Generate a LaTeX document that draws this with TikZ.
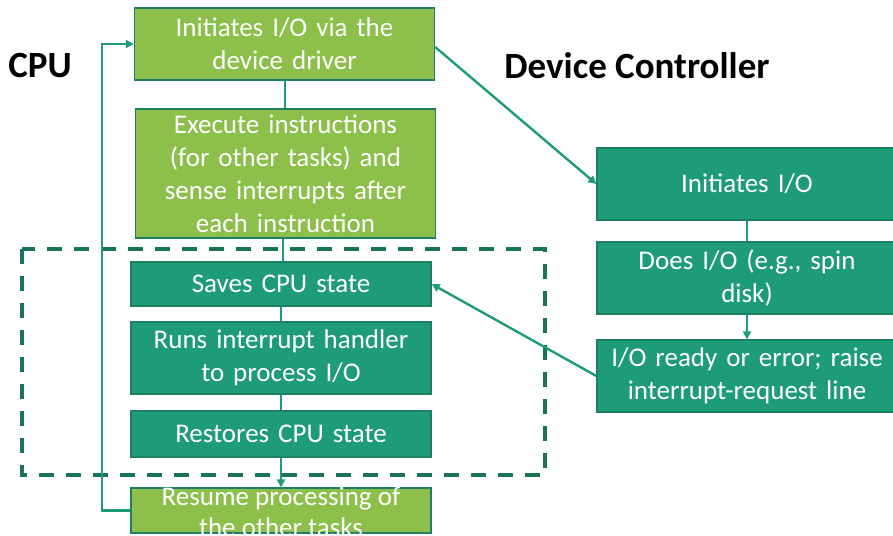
\documentclass[tikz,border=0pt]{standalone}
\usepackage{fontspec}
\setmainfont{Carlito}
\usetikzlibrary{arrows.meta,calc}
\definecolor{lgreen}{HTML}{8CC04B}
\definecolor{teal1}{HTML}{1E9C78}
\definecolor{bord}{HTML}{1D7F63}
\definecolor{dashc}{HTML}{18735A}
\tikzset{
  lbox/.style={draw=bord, line width=1.3pt, fill=lgreen, text=white, minimum width=300pt, inner sep=0pt, align=center, text width=296pt, font=\fontsize{27}{33}\selectfont},
  tbox/.style={draw=bord, line width=1.3pt, fill=teal1, text=white, minimum width=300pt, inner sep=0pt, align=center, text width=296pt, font=\fontsize{27}{33}\selectfont},
  conn/.style={draw=teal1, line width=2.4pt},
  arr/.style={conn, -{Triangle[length=8pt,width=8pt]}},
  title/.style={font=\fontsize{37}{40}\selectfont\bfseries, text=black, inner sep=0pt}
}
\begin{document}
\begin{tikzpicture}[x=1pt,y=-1pt]
\useasboundingbox (0,0) rectangle (893,535);
\clip (0,0) rectangle (893,535);
\fill[white] (0,0) rectangle (893,535);
% titles
\node[title] (cpu) at (40,66) {CPU};
\node[title] (dc) at (637,66) {Device Controller};
% dashed frame
\draw[dashc, line width=3.6pt, dash pattern=on 15pt off 12pt] (22,249) rectangle (545,475);
% left column
\node[lbox, minimum height=72pt] (b1) at (284.5,44) {Initiates I/O via the\\device driver};
\node[lbox, minimum height=129pt] (b2) at (285.5,173.5) {Execute instructions\\(for other tasks) and\\sense interrupts after\\each instruction};
\node[tbox, minimum height=44pt] (saves) at (281,284) {Saves CPU state};
\node[tbox, minimum height=72pt] (runs) at (281,358) {Runs interrupt handler\\to process I/O};
\node[tbox, minimum height=46pt] (rest) at (281,434) {Restores CPU state};
\node[lbox, minimum height=45pt] (resume) at (281,510.5) {};
\node[text=white, align=center, inner sep=0pt, font=\fontsize{27}{31}\selectfont] (resumetxt) at (281,512) {Resume processing of\\the other tasks};
% right column
\node[tbox, minimum height=72pt] (init) at (747,184) {Initiates I/O};
\node[tbox, minimum height=72pt] (does) at (747,278) {Does I/O (e.g., spin\\disk)};
\node[tbox, minimum height=72pt] (ready) at (747,376) {I/O ready or error; raise\\interrupt-request line};
% connectors
\draw[conn] (b1.south -| 285,0) -- (b2.north -| 285,0);
\draw[conn] (b2.south -| 283,0) -- (saves.north -| 283,0);
\draw[conn] (saves.south) -- (runs.north);
\draw[conn] (runs.south) -- (rest.north);
\draw[arr] (rest.south) -- (resume.north);
\draw[arr] (resume.west) -| ($(b1.west)+(-32,0)$) -- (b1.west);
\draw[arr] ($(b1.east)+(0,3)$) -- (init.west);
\draw[conn] (init.south) -- (does.north);
\draw[arr] (does.south) -- (ready.north);
\draw[arr] (ready.west) -- (saves.east);
\end{tikzpicture}
\end{document}
